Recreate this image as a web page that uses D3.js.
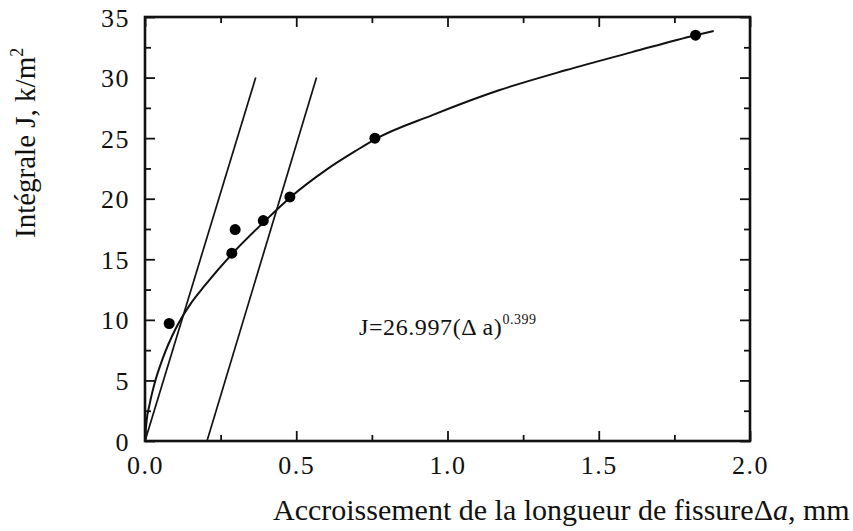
<!DOCTYPE html>
<html><head><meta charset="utf-8">
<script src="https://cdn.jsdelivr.net/npm/d3@7"></script>
<style>
body{margin:0;background:#fff;}
text{font-family:"Liberation Serif","Times New Roman",serif;fill:#111;}
</style></head>
<body>
<svg id="chart" width="853" height="531"></svg>
<script>
// ---- data ----
const xMajorTicks = [0, 0.5, 1.0, 1.5, 2.0];
const xMinorTicks = [0.25, 0.75, 1.25, 1.75];
const xTickLabels = ["0.0", "0.5", "1.0", "1.5", "2.0"];
const yMajorTicks = [0, 5, 10, 15, 20, 25, 30, 35];
const yMinorTicks = [2.5, 7.5, 12.5, 17.5, 22.5, 27.5, 32.5];
const yTickLabels = ["0", "5", "10", "15", "20", "25", "30", "35"];
const pointsX = [0.08, 0.287, 0.298, 0.391, 0.479, 0.76, 1.82];
const pointsY = [9.7, 15.5, 17.45, 18.2, 20.15, 25.0, 33.5];
// fitted curve
const curveX = [0, 0.005, 0.015, 0.03, 0.06, 0.1, 0.15, 0.2, 0.29, 0.39, 0.48, 0.6, 0.7, 0.76, 0.95, 1.17, 1.39, 1.61, 1.82, 1.88];
const curveY = [0, 1.6, 3.0, 4.6, 6.9, 9.2, 11.3, 12.9, 15.5, 18.0, 20.1, 22.4, 24.0, 24.9, 26.9, 28.95, 30.6, 32.1, 33.5, 33.85];
// construction lines (blunting line and 0.2 mm offset line)
const line1X = [0, 0.366];
const line1Y = [0, 30];
const line2X = [0.205, 0.567];
const line2Y = [0, 30];
const equationMain = "J=26.997(\u0394 a)";
const equationExp = "0.399";
const xLabelMain = "Accroissement de la longueur de fissure";
const yLabelMain = "Intégrale J, k/m";

// ---- layout ----
const svg = d3.select("#chart");
const L = 145, R = 750, T = 17, B = 441;
const x = d3.scaleLinear().domain([0, 2]).range([L, R]);
const y = d3.scaleLinear().domain([0, 35]).range([B, T]);

const tickFont = 26;

function styleAxis(g){
  g.select(".domain").remove();
  g.selectAll(".tick line").attr("stroke", "#111").attr("stroke-width", 1.8);
}

// minor ticks (all four sides)
svg.append("g").attr("transform", `translate(0,${B})`)
  .call(d3.axisBottom(x).tickValues(xMinorTicks).tickSize(-6).tickFormat(""))
  .call(styleAxis);
svg.append("g").attr("transform", `translate(0,${T})`)
  .call(d3.axisTop(x).tickValues(xMinorTicks).tickSize(-6).tickFormat(""))
  .call(styleAxis);
svg.append("g").attr("transform", `translate(${L},0)`)
  .call(d3.axisLeft(y).tickValues(yMinorTicks).tickSize(-6).tickFormat(""))
  .call(styleAxis);
svg.append("g").attr("transform", `translate(${R},0)`)
  .call(d3.axisRight(y).tickValues(yMinorTicks).tickSize(-6).tickFormat(""))
  .call(styleAxis);

// major ticks
const gx = svg.append("g").attr("transform", `translate(0,${B})`)
  .call(d3.axisBottom(x).tickValues(xMajorTicks).tickSize(-10)
    .tickFormat((d, i) => xTickLabels[i]))
  .call(styleAxis);
gx.selectAll(".tick text").attr("y", 33).attr("dy", 0)
  .attr("font-size", tickFont).attr("font-family", "Liberation Serif")
  .attr("letter-spacing", 1.5).attr("fill", "#111");
svg.append("g").attr("transform", `translate(0,${T})`)
  .call(d3.axisTop(x).tickValues(xMajorTicks).tickSize(-10).tickFormat(""))
  .call(styleAxis);
const gy = svg.append("g").attr("transform", `translate(${L},0)`)
  .call(d3.axisLeft(y).tickValues(yMajorTicks).tickSize(-10)
    .tickFormat((d, i) => yTickLabels[i]))
  .call(styleAxis);
gy.selectAll(".tick text").attr("x", -15).attr("dy", "0.35em")
  .attr("font-size", tickFont).attr("font-family", "Liberation Serif")
  .attr("letter-spacing", 1.5).attr("fill", "#111");
svg.append("g").attr("transform", `translate(${R},0)`)
  .call(d3.axisRight(y).tickValues(yMajorTicks).tickSize(-10).tickFormat(""))
  .call(styleAxis);

// frame
svg.append("rect").attr("x", L).attr("y", T).attr("width", R - L).attr("height", B - T)
  .attr("fill", "none").attr("stroke", "#111").attr("stroke-width", 2.6);

// construction lines
const lineGen = d3.line().x(d => x(d[0])).y(d => y(d[1]));
[[line1X, line1Y], [line2X, line2Y]].forEach(([lx, ly]) => {
  svg.append("path").datum(lx.map((v, i) => [v, ly[i]]))
    .attr("d", lineGen).attr("fill", "none").attr("stroke", "#111").attr("stroke-width", 1.7);
});

// fitted curve
const curveGen = d3.line().x(d => x(d[0])).y(d => y(d[1])).curve(d3.curveMonotoneX);
svg.append("path").datum(curveX.map((v, i) => [v, curveY[i]]))
  .attr("d", curveGen).attr("fill", "none").attr("stroke", "#111").attr("stroke-width", 2);

// points
svg.append("g").selectAll("circle").data(pointsX.map((v, i) => [v, pointsY[i]]))
  .join("circle").attr("cx", d => x(d[0])).attr("cy", d => y(d[1])).attr("r", 5.5)
  .attr("fill", "#000");

// equation
const eq = svg.append("text").attr("x", 359).attr("y", 335).attr("font-size", 24)
  .attr("letter-spacing", 0.6);
eq.append("tspan").text(equationMain);
eq.append("tspan").attr("font-size", 14).attr("dy", -11).attr("letter-spacing", 0.5).text(equationExp);

// x label
const xl = svg.append("text").attr("x", 273).attr("y", 520).attr("font-size", 30);
xl.append("tspan").text(xLabelMain);
xl.append("tspan").text("\u0394");
xl.append("tspan").attr("font-style", "italic").text("a");
xl.append("tspan").text(", mm");

// y label
const yl = svg.append("text").attr("transform", "translate(35,238) rotate(-90)")
  .attr("font-size", 29);
yl.append("tspan").text(yLabelMain);
yl.append("tspan").attr("font-size", 18).attr("dy", -12).text("2");
</script>
</body></html>
